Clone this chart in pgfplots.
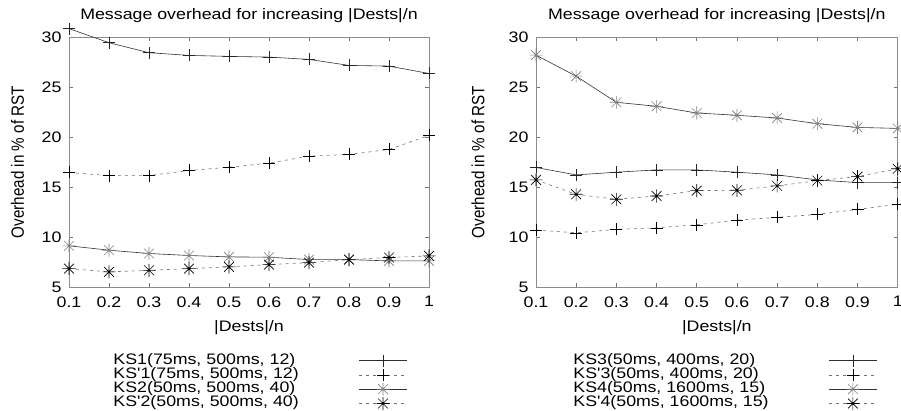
\documentclass[border=0pt]{standalone}
\usepackage{fontspec}
\setmainfont{Liberation Sans}
\usepackage{graphicx}
\usepackage{pgfplots}
\pgfplotsset{compat=1.18}
\newcommand\sx[1]{\scalebox{1.17}[1]{#1}}

\pgfdeclareplotmark{gpstar}{%
  \pgfpathmoveto{\pgfqpoint{-\pgfplotmarksize}{0pt}}\pgfpathlineto{\pgfqpoint{\pgfplotmarksize}{0pt}}%
  \pgfpathmoveto{\pgfqpoint{0pt}{-\pgfplotmarksize}}\pgfpathlineto{\pgfqpoint{0pt}{\pgfplotmarksize}}%
  \pgfpathmoveto{\pgfqpoint{-.75\pgfplotmarksize}{-.75\pgfplotmarksize}}\pgfpathlineto{\pgfqpoint{.75\pgfplotmarksize}{.75\pgfplotmarksize}}%
  \pgfpathmoveto{\pgfqpoint{-.75\pgfplotmarksize}{.75\pgfplotmarksize}}\pgfpathlineto{\pgfqpoint{.75\pgfplotmarksize}{-.75\pgfplotmarksize}}%
  \pgfusepathqstroke}

\pgfplotsset{
  gp/.style={
    scale only axis, height=250pt,
    xmin=0.1, xmax=1, ymin=5, ymax=30,
    xtick={0.1,0.2,0.3,0.4,0.5,0.6,0.7,0.8,0.9,1},
    ytick={5,10,15,20,25,30},
    /pgf/number format/assume math mode=true,
    xticklabel={\sx{\pgfmathprintnumber{\tick}}},
    yticklabel={\sx{\pgfmathprintnumber{\tick}}},
    xticklabel style={yshift=-6pt},
    yticklabel style={xshift=-4pt},
    major tick length=4pt,
    tick style={black!55, line width=0.6pt},
    axis line style={black!45, line width=0.6pt},
    clip=false,
    title={\sx{Message overhead for increasing |Dests|/n}},
    title style={at={(axis description cs:0.5,1)}, anchor=base, yshift=11.7pt, inner sep=0pt},
    xlabel={\sx{|Dests|/n}},
    xlabel style={at={(axis description cs:0.5,0)}, anchor=base, yshift=-44pt, inner sep=0pt},
    ylabel={\scalebox{1}[1.17]{Overhead in \% of RST}},
    ylabel style={anchor=center},
    legend plot pos=right,
    legend cell align=left,
    legend image code/.code={\draw[mark repeat=2,mark phase=2,#1] plot coordinates {(0pt,0pt) (24pt,0pt) (48pt,0pt)};},
    legend style={draw=none, fill=none, anchor=north west, inner sep=0pt,
      column sep=60pt, row sep=0pt,
      nodes={inner sep=0pt, text height=10.6pt, text depth=3.7pt}},
  },
  sp/.style={black!80, line width=0.6pt, mark=+, mark size=6pt, mark options={solid, black!85}},
  dp/.style={black!55, line width=0.6pt, dash pattern=on 3pt off 4pt, mark=+, mark size=6pt, mark options={solid, black}},
  ss/.style={black!80, line width=0.6pt, mark=gpstar, mark size=6.5pt, mark options={solid, black!50}},
  ds/.style={black!55, line width=0.6pt, dash pattern=on 3pt off 4pt, mark=gpstar, mark size=6.5pt, mark options={solid, black}},
}

\begin{document}
\begin{tikzpicture}[font=\fontsize{15.2}{18}\selectfont]
\begin{axis}[gp, width=360pt, at={(69pt,-287pt)}, anchor=south west,
  ylabel style={at={(axis description cs:-0.143,0.5)}},
  legend style={at={(axis description cs:0.123,-0.265)}}]
\addplot[sp] coordinates {(0.1,30.84)(0.2,29.43)(0.3,28.43)(0.4,28.16)(0.5,28.06)(0.6,27.99)(0.7,27.76)(0.8,27.16)(0.9,27.09)(1,26.35)};
\addlegendentry{\sx{KS1(75ms, 500ms, 12)}}
\addplot[dp] coordinates {(0.1,16.45)(0.2,16.14)(0.3,16.14)(0.4,16.65)(0.5,16.98)(0.6,17.38)(0.7,18.09)(0.8,18.25)(0.9,18.76)(1,20.16)};
\addlegendentry{\sx{KS\textquotesingle1(75ms, 500ms, 12)}}
\addplot[ss] coordinates {(0.1,9.12)(0.2,8.68)(0.3,8.35)(0.4,8.15)(0.5,8.01)(0.6,7.98)(0.7,7.74)(0.8,7.74)(0.9,7.61)(1,7.61)};
\addlegendentry{\sx{KS2(50ms, 500ms, 40)}}
\addplot[ds] coordinates {(0.1,6.84)(0.2,6.51)(0.3,6.67)(0.4,6.84)(0.5,7.01)(0.6,7.24)(0.7,7.44)(0.8,7.74)(0.9,7.95)(1,8.11)};
\addlegendentry{\sx{KS\textquotesingle2(50ms, 500ms, 40)}}
\end{axis}
\begin{axis}[gp, width=361.7pt, at={(536pt,-287pt)}, anchor=south west,
  ylabel style={at={(axis description cs:-0.160,0.5)}},
  legend style={at={(axis description cs:0.103,-0.265)}}]
\addplot[sp] coordinates {(0.1,16.95)(0.2,16.21)(0.3,16.48)(0.4,16.71)(0.5,16.71)(0.6,16.48)(0.7,16.21)(0.8,15.71)(0.9,15.44)(1,15.44)};
\addlegendentry{\sx{KS3(50ms, 400ms, 20)}}
\addplot[dp] coordinates {(0.1,10.69)(0.2,10.42)(0.3,10.76)(0.4,10.92)(0.5,11.22)(0.6,11.69)(0.7,11.96)(0.8,12.26)(0.9,12.76)(1,13.27)};
\addlegendentry{\sx{KS\textquotesingle3(50ms, 400ms, 20)}}
\addplot[ss] coordinates {(0.1,28.19)(0.2,26.08)(0.3,23.47)(0.4,23.07)(0.5,22.40)(0.6,22.17)(0.7,21.90)(0.8,21.33)(0.9,20.96)(1,20.86)};
\addlegendentry{\sx{KS4(50ms, 1600ms, 15)}}
\addplot[ds] coordinates {(0.1,15.71)(0.2,14.27)(0.3,13.77)(0.4,14.10)(0.5,14.64)(0.6,14.67)(0.7,15.11)(0.8,15.64)(0.9,16.04)(1,16.82)};
\addlegendentry{\sx{KS\textquotesingle4(50ms, 1600ms, 15)}}
\end{axis}
\pgfresetboundingbox
\useasboundingbox (0pt,0pt) rectangle (901pt,-411pt);
\end{tikzpicture}
\end{document}
